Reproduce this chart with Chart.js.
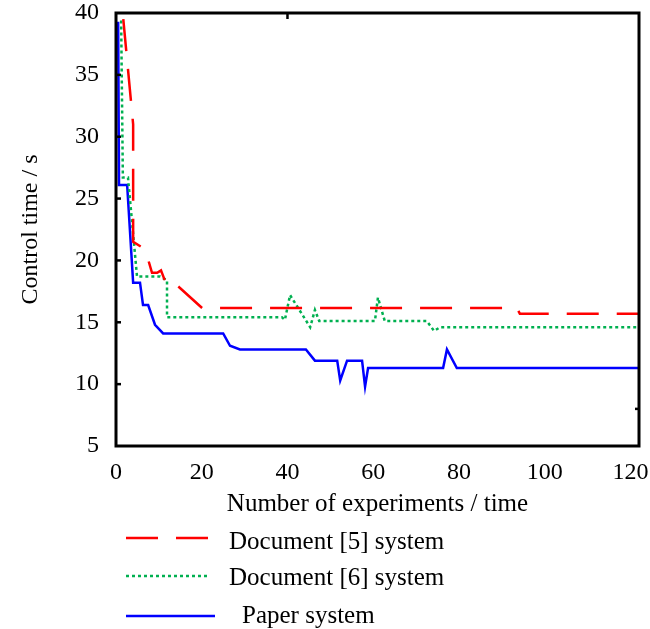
<!DOCTYPE html>
<html>
<head>
<meta charset="utf-8">
<script src="https://cdn.jsdelivr.net/npm/chart.js@4.4.1/dist/chart.umd.min.js"></script>
<style>
  html, body { margin: 0; padding: 0; background: #fff; }
  canvas { display: block; }
</style>
</head>
<body>
<canvas id="chart" width="650" height="629"></canvas>
<script>
// values
const doc5X = [1.7, 4.0, 4.0, 6.8, 8.4, 9.6, 10.5, 11.9, 14.5, 20.1, 93.5, 94.2, 122];
const doc5Y = [39.5, 31.0, 21.5, 20.9, 19.0, 19.0, 19.2, 17.9, 17.9, 16.15, 16.15, 15.7, 15.7];

const doc6X = [1.2, 1.6, 2.8, 4.9, 10.3, 11.9, 11.9, 38.7, 39.4, 40.6, 45.3, 46.4, 47.4, 60.4, 61.1, 62.7, 72.5, 74.2, 75.6, 122];
const doc6Y = [39.4, 26.7, 26.7, 18.7, 18.7, 18.4, 15.4, 15.4, 15.2, 17.2, 14.6, 16.0, 15.1, 15.1, 17.0, 15.1, 15.1, 14.3, 14.6, 14.6];

const paperX = [0.5, 0.7, 2.6, 4.0, 5.6, 6.3, 7.5, 9.1, 11.0, 25.0, 26.6, 28.9, 44.3, 46.4, 51.6, 52.3, 53.9, 57.4, 58.1, 58.8, 76.3, 77.2, 79.5, 122];
const paperY = [39.3, 26.1, 26.1, 18.2, 18.2, 16.4, 16.4, 14.8, 14.1, 14.1, 13.1, 12.8, 12.8, 11.9, 11.9, 10.3, 11.9, 11.9, 9.8, 11.3, 11.3, 12.8, 11.3, 11.3];

const seriesNames = ["Document [5] system", "Document [6] system", "Paper system"];
const xTicks = [0, 20, 40, 60, 80, 100, 120];
const yTicks = [5, 10, 15, 20, 25, 30, 35, 40];

const FONT = "'Liberation Serif', 'Times New Roman', serif";

function points(xs, ys) {
  return xs.map((x, i) => ({ x: x, y: ys[i] }));
}

const frame = {
  id: "frame",
  afterDatasetsDraw(chart) {
    const { ctx, chartArea: a, scales } = chart;
    ctx.save();
    ctx.strokeStyle = "#000";
    ctx.lineWidth = 3;
    ctx.strokeRect(a.left, a.top, a.right - a.left, a.bottom - a.top);
    // small inside ticks on the left axis
    ctx.lineWidth = 2.5;
    yTicks.slice(1, -1).forEach((v) => {
      const y = scales.y.getPixelForValue(v);
      ctx.beginPath();
      ctx.moveTo(a.left, y);
      ctx.lineTo(a.left + 5, y);
      ctx.stroke();
    });
    // odd stray ticks on top and right edges
    const tx = scales.x.getPixelForValue(40);
    ctx.beginPath();
    ctx.moveTo(tx, a.top);
    ctx.lineTo(tx, a.top + 6);
    ctx.stroke();
    const ty = scales.y.getPixelForValue(8);
    ctx.beginPath();
    ctx.moveTo(a.right, ty);
    ctx.lineTo(a.right - 4, ty);
    ctx.stroke();
    ctx.restore();
  },
};

const legendBelow = {
  id: "legendBelow",
  afterDraw(chart) {
    const ctx = chart.ctx;
    const rows = [
      { y: 538, text: 549, tx: 229 },
      { y: 576, text: 585, tx: 229 },
      { y: 616, text: 623, tx: 242 },
    ];
    ctx.save();
    chart.data.datasets.forEach((ds, i) => {
      const r = rows[i];
      ctx.strokeStyle = ds.borderColor;
      ctx.lineWidth = ds.borderWidth;
      ctx.setLineDash(ds.borderDash || []);
      ctx.beginPath();
      ctx.moveTo(126, r.y);
      ctx.lineTo(i === 2 ? 215 : 210, r.y);
      ctx.stroke();
      ctx.setLineDash([]);
      ctx.fillStyle = "#000";
      ctx.font = "25px " + FONT;
      ctx.textBaseline = "alphabetic";
      ctx.textAlign = "left";
      ctx.fillText(ds.label, r.tx, r.text);
    });
    ctx.restore();
  },
};

new Chart(document.getElementById("chart").getContext("2d"), {
  type: "line",
  data: {
    datasets: [
      {
        label: seriesNames[0],
        data: points(doc5X, doc5Y),
        borderColor: "#ff0000",
        borderWidth: 2.5,
        borderDash: [32, 18],
      },
      {
        label: seriesNames[1],
        data: points(doc6X, doc6Y),
        borderColor: "#00b050",
        borderWidth: 2.5,
        borderDash: [3, 3],
      },
      {
        label: seriesNames[2],
        data: points(paperX, paperY),
        borderColor: "#0000ff",
        borderWidth: 2.5,
      },
    ],
  },
  options: {
    responsive: false,
    animation: false,
    devicePixelRatio: 1,
    layout: { padding: { left: 0, top: 13, right: 11, bottom: 110 } },
    elements: { point: { radius: 0 }, line: { tension: 0 } },
    plugins: { legend: { display: false }, tooltip: { enabled: false } },
    scales: {
      x: {
        type: "linear",
        min: 0,
        max: 122,
        grid: { display: false, drawTicks: false },
        border: { display: false },
        afterBuildTicks: (s) => { s.ticks = xTicks.map((v) => ({ value: v })); },
        afterFit: (s) => { s.height = 73; s.paddingLeft = 0; s.paddingRight = 0; },
        ticks: { color: "#000", font: { family: FONT, size: 24 }, padding: 12, maxRotation: 0 },
        title: {
          display: true,
          text: "Number of experiments / time",
          color: "#000",
          font: { family: FONT, size: 25 },
          padding: { top: 0, bottom: 0 },
        },
      },
      y: {
        min: 5,
        max: 40,
        grid: { display: false, drawTicks: false },
        border: { display: false },
        afterBuildTicks: (s) => { s.ticks = yTicks.map((v) => ({ value: v })); },
        afterFit: (s) => { s.width = 116; s.paddingTop = 0; s.paddingBottom = 0; },
        ticks: { color: "#000", font: { family: FONT, size: 24 }, padding: 17 },
        title: {
          display: true,
          text: "Control time / s",
          color: "#000",
          font: { family: FONT, size: 24 },
          padding: { top: 16, bottom: 0 },
        },
      },
    },
  },
  plugins: [frame, legendBelow],
});
</script>
</body>
</html>
